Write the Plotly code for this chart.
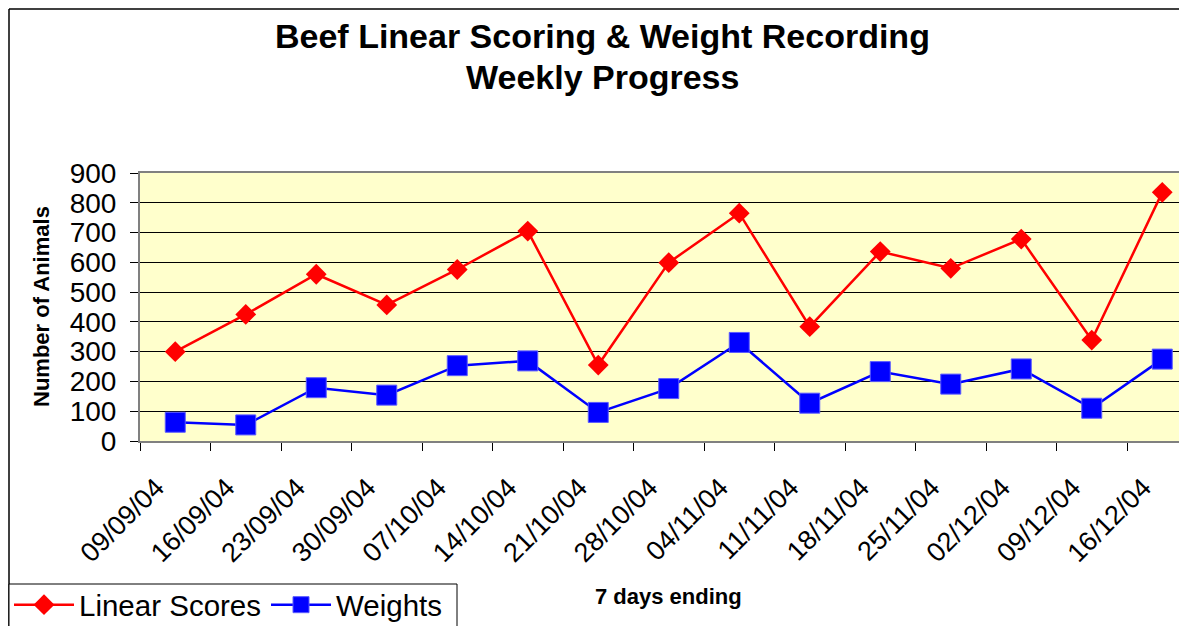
import plotly.graph_objects as go

dates = ['09/09/04', '16/09/04', '23/09/04', '30/09/04', '07/10/04', '14/10/04',
         '21/10/04', '28/10/04', '04/11/04', '11/11/04', '18/11/04', '25/11/04',
         '02/12/04', '09/12/04', '16/12/04']
linear_scores = [300, 425, 560, 457, 576, 705, 255, 599, 765, 384, 636, 580, 678, 339, 835]
weights = [63, 54, 179, 154, 253, 269, 96, 176, 331, 127, 233, 191, 242, 110, 275]
y_ticks = [0, 100, 200, 300, 400, 500, 600, 700, 800, 900]

# page has an 8px body margin; figure is sized/offset to compensate
OFF = 8
W, H = 1187 - OFF, 626 - OFF
L, T, R, B = 140 - OFF, 173 - OFF, 0, 626 - 441
pw = W - L - R
ph = H - T - B

def px_x(p):
    return (p - OFF - L) / pw

def px_y(p):
    return (H - B - (p - OFF)) / ph

FONT = "Liberation Sans, Arial, sans-serif"

fig = go.Figure()
fig.add_trace(go.Scatter(
    x=dates, y=linear_scores, name="Linear Scores", mode="lines+markers",
    line=dict(color="#FF0000", width=2.5),
    marker=dict(symbol="diamond", size=16, color="#FF0000", line=dict(width=0)),
))
fig.add_trace(go.Scatter(
    x=dates, y=weights, name="Weights", mode="lines+markers",
    line=dict(color="#0000FF", width=2.5),
    marker=dict(symbol="square", size=20, color="#0000FF", line=dict(width=1, color="#5A5AFF")),
))

cat_w = 70.5
fig.update_layout(
    width=W, height=H,
    margin=dict(l=L, r=R, t=T, b=B, autoexpand=False),
    paper_bgcolor="white",
    plot_bgcolor="#FFFFCC",
    font=dict(family=FONT, color="black"),
    xaxis=dict(
        type="category", range=[-0.5, -0.5 + pw / cat_w],
        tickson="boundaries", ticks="outside", ticklen=8, tickcolor="black", tickwidth=1,
        tickangle=-45, tickfont=dict(size=27, family=FONT, color="black"),
        ticklabelshift=-19, ticklabelstandoff=18,
        showline=True, linecolor="#808080", linewidth=2, mirror=True,
        showgrid=False, zeroline=False, fixedrange=True,
    ),
    yaxis=dict(
        range=[0, 900], tickvals=y_ticks, ticks="outside", ticklen=8,
        tickcolor="black", tickwidth=1, ticklabelstandoff=8,
        tickfont=dict(size=28, family=FONT, color="black"),
        showline=True, linecolor="#808080", linewidth=2,
        showgrid=True, gridcolor="black", gridwidth=1, zeroline=False, fixedrange=True,
    ),
    showlegend=True,
    legend=dict(
        orientation="h", x=px_x(9), xanchor="left", y=px_y(579), yanchor="top",
        xref="paper", yref="paper",
        bgcolor="rgba(0,0,0,0)", borderwidth=0,
        font=dict(size=29.5, family=FONT, color="black"),
        itemwidth=60, tracegroupgap=0,
    ),
    annotations=[
        dict(text="<b>Beef Linear Scoring & Weight Recording</b>", x=px_x(602), y=px_y(36),
             xref="paper", yref="paper", showarrow=False, xanchor="center", yanchor="middle",
             font=dict(size=34, family=FONT, color="black")),
        dict(text="<b>Weekly Progress</b>", x=px_x(602), y=px_y(77),
             xref="paper", yref="paper", showarrow=False, xanchor="center", yanchor="middle",
             font=dict(size=34, family=FONT, color="black")),
        dict(text="<b>Number of Animals</b>", x=px_x(41), y=px_y(307), xref="paper", yref="paper",
             textangle=-90, showarrow=False, xanchor="center", yanchor="middle",
             font=dict(size=22, family=FONT, color="black")),
        dict(text="<b>7 days ending</b>", x=px_x(668), y=px_y(596), xref="paper", yref="paper",
             showarrow=False, xanchor="center", yanchor="middle",
             font=dict(size=22, family=FONT, color="black")),
    ],
    shapes=[
        # outer chart border (as close to the page edge as the figure allows)
        dict(type="line", xref="paper", yref="paper", x0=px_x(9), x1=px_x(9), y0=px_y(9), y1=px_y(700),
             line=dict(color="black", width=1.5)),
        dict(type="line", xref="paper", yref="paper", x0=px_x(9), x1=px_x(1300), y0=px_y(9), y1=px_y(9),
             line=dict(color="black", width=1.5)),
        dict(type="rect", xref="paper", yref="paper", x0=px_x(9), x1=px_x(457), y0=px_y(584), y1=px_y(700),
             line=dict(color="black", width=1), fillcolor="white", layer="above"),
    ],
)

fig.write_html("out.html")
